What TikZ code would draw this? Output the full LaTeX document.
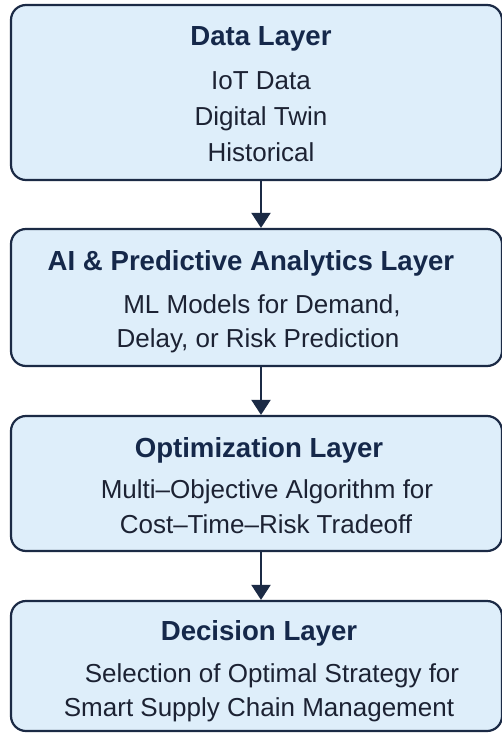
\documentclass[tikz,border=0pt]{standalone}
\usepackage{fontspec}
\setmainfont{Liberation Sans}
\usetikzlibrary{arrows.meta}

\definecolor{boxfill}{HTML}{DEEEFA}
\definecolor{boxline}{HTML}{1B2A45}
\definecolor{titlecol}{HTML}{15284A}
\definecolor{bodycol}{HTML}{1C2233}

\tikzset{
  layerbox/.style={draw=boxline, line width=2.2pt, fill=boxfill,
    rounded corners=15pt, inner sep=0pt, minimum width=491pt},
  layertitle/.style={anchor=base, inner sep=0pt, text=titlecol,
    font=\fontsize{27.6}{32}\bfseries\selectfont},
  layertext/.style={anchor=base, inner sep=0pt, text=bodycol,
    font=\fontsize{26}{30}\selectfont},
  flow/.style={draw=boxline, line width=2pt,
    -{Triangle[width=19pt,length=15pt]}}
}

\begin{document}
\begin{tikzpicture}[x=1pt,y=-1pt]
  \useasboundingbox (0,0) rectangle (501,733);
  \fill[white] (0,0) rectangle (501,733);

  % layer boxes (right edge runs to the page border)
  \node[layerbox, minimum height=175pt] (data) at (256.5,92.5) {};
  \node[layerbox, minimum height=137pt] (ai)   at (256.5,297.5) {};
  \node[layerbox, minimum height=135pt] (opt)  at (256.5,483.5) {};
  \node[layerbox, minimum height=130pt] (dec)  at (256.5,666) {};

  % data layer
  \node[layertitle] (t1) at (261,45.5) {Data Layer};
  \node[layertext] (d1) at (261,90) {IoT Data};
  \node[layertext] (d2) at (261,125) {Digital Twin};
  \node[layertext] (d3) at (261,161) {Historical};

  % AI layer
  \node[layertitle] (t2) at (251,270) {AI \& Predictive Analytics Layer};
  \node[layertext] (a1) at (262,313) {ML Models for Demand,};
  \node[layertext] (a2) at (258,347) {Delay, or Risk Prediction};

  % optimization layer
  \node[layertitle] (t3) at (259,457) {Optimization Layer};
  \node[layertext] (o1) at (267,498) {Multi–Objective Algorithm for};
  \node[layertext] (o2) at (266,533) {Cost–Time–Risk Tradeoff};

  % decision layer
  \node[layertitle] (t4) at (259,640) {Decision Layer};
  \node[layertext] (s1) at (272,682) {Selection of Optimal Strategy for};
  \node[layertext] (s2) at (259,716) {Smart Supply Chain Management};

  % connectors
  \draw[flow] ([xshift=4.5pt]data.south) -- ([xshift=4.5pt]ai.north);
  \draw[flow] ([xshift=4.5pt]ai.south) -- ([xshift=4.5pt]opt.north);
  \draw[flow] ([xshift=4.5pt]opt.south) -- ([xshift=4.5pt]dec.north);
\end{tikzpicture}
\end{document}
